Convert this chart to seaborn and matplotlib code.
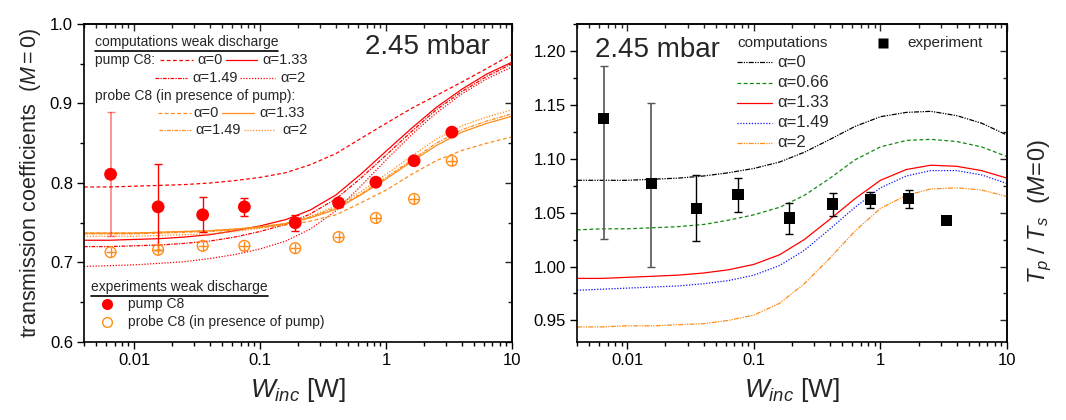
import matplotlib
matplotlib.use("Agg")
import matplotlib.pyplot as plt
import seaborn as sns
from matplotlib.ticker import MultipleLocator, NullFormatter, FuncFormatter

# incident power grid for the computed curves [W]
w_grid = [0.004, 0.0063, 0.01, 0.016, 0.025, 0.04, 0.063, 0.1, 0.16, 0.25,
          0.4, 0.63, 1.0, 1.6, 2.5, 4.0, 6.3, 10.0]

# left panel: computations weak discharge (transmission coefficients)
pump_a0 = [0.795, 0.795, 0.796, 0.797, 0.798, 0.800, 0.803, 0.807, 0.813, 0.823,
           0.837, 0.856, 0.875, 0.894, 0.910, 0.927, 0.944, 0.962]
pump_a133 = [0.728, 0.728, 0.729, 0.730, 0.732, 0.735, 0.740, 0.746, 0.754, 0.766,
             0.785, 0.811, 0.840, 0.869, 0.895, 0.918, 0.937, 0.952]
pump_a149 = [0.720, 0.720, 0.721, 0.722, 0.724, 0.727, 0.732, 0.739, 0.748, 0.761,
             0.780, 0.806, 0.835, 0.865, 0.892, 0.915, 0.934, 0.950]
pump_a2 = [0.695, 0.696, 0.697, 0.699, 0.701, 0.705, 0.710, 0.717, 0.727, 0.742,
           0.765, 0.796, 0.829, 0.861, 0.888, 0.912, 0.931, 0.946]
probe_a0 = [0.737, 0.737, 0.737, 0.738, 0.739, 0.740, 0.742, 0.744, 0.747, 0.752,
            0.760, 0.775, 0.791, 0.811, 0.828, 0.841, 0.850, 0.858]
probe_a133 = [0.737, 0.737, 0.737, 0.738, 0.739, 0.740, 0.742, 0.745, 0.749, 0.756,
              0.767, 0.785, 0.805, 0.827, 0.847, 0.864, 0.875, 0.884]
probe_a149 = [0.736, 0.736, 0.736, 0.737, 0.738, 0.739, 0.741, 0.744, 0.749, 0.757,
              0.769, 0.786, 0.807, 0.829, 0.850, 0.867, 0.878, 0.887]
probe_a2 = [0.733, 0.733, 0.733, 0.734, 0.735, 0.736, 0.739, 0.743, 0.749, 0.758,
            0.771, 0.789, 0.811, 0.834, 0.855, 0.872, 0.883, 0.892]

# right panel: computations Tp/Ts
ratio_a0 = [1.080, 1.080, 1.080, 1.081, 1.082, 1.084, 1.087, 1.091, 1.097, 1.106,
            1.118, 1.130, 1.139, 1.143, 1.144, 1.140, 1.133, 1.122]
ratio_a066 = [1.034, 1.035, 1.035, 1.036, 1.037, 1.039, 1.043, 1.048, 1.055, 1.066,
              1.082, 1.099, 1.111, 1.117, 1.118, 1.116, 1.111, 1.102]
ratio_a133 = [0.989, 0.989, 0.990, 0.991, 0.992, 0.994, 0.997, 1.002, 1.011, 1.025,
              1.044, 1.063, 1.080, 1.090, 1.094, 1.093, 1.089, 1.082]
ratio_a149 = [0.978, 0.979, 0.980, 0.981, 0.982, 0.984, 0.987, 0.992, 1.001, 1.015,
              1.035, 1.055, 1.073, 1.084, 1.089, 1.089, 1.085, 1.077]
ratio_a2 = [0.944, 0.944, 0.945, 0.945, 0.946, 0.947, 0.950, 0.955, 0.966, 0.984,
            1.008, 1.033, 1.054, 1.066, 1.072, 1.073, 1.071, 1.065]

# experiments
w_exp = [0.0065, 0.0155, 0.035, 0.075, 0.19, 0.42, 0.83, 1.67, 3.33]
pump_exp = [0.811, 0.770, 0.760, 0.770, 0.750, 0.775, 0.801, 0.828, 0.864]
pump_err = [0.078, 0.054, 0.022, 0.011, 0.010, 0.005, 0.0, 0.0, 0.0]
probe_exp = [0.713, 0.716, 0.721, 0.721, 0.718, 0.732, 0.756, 0.780, 0.828]
ratio_exp = [1.137, 1.077, 1.054, 1.067, 1.045, 1.058, 1.062, 1.063, 1.043]
ratio_err_lo = [0.111, 0.077, 0.030, 0.016, 0.015, 0.011, 0.008, 0.009, 0.0]
ratio_err_hi = [0.049, 0.075, 0.031, 0.015, 0.014, 0.010, 0.007, 0.008, 0.0]

RED = "#ff0000"
ORANGE = "#ff8c1a"
GREEN = "#108a10"
BLUE = "#1010ff"
DASH = (0, (3, 2))
DASHDOT = (0, (3, 1, 1, 1))
DOT = (0, (1, 1.3))
DASHDOTDOT = (0, (4, 1, 1, 1, 1, 1))

sns.set_theme(style="ticks")
plt.rcParams["font.family"] = ["Liberation Sans", "DejaVu Sans"]
plt.rcParams["mathtext.fontset"] = "custom"
plt.rcParams["mathtext.rm"] = "Liberation Sans"
plt.rcParams["mathtext.it"] = "Liberation Sans:italic"
plt.rcParams["mathtext.bf"] = "Liberation Sans:bold"

fig = plt.figure(figsize=(10.66, 4.2), dpi=100)
axL = fig.add_axes([84 / 1066, 78 / 420, 428 / 1066, 318 / 420])
axR = fig.add_axes([577 / 1066, 78 / 420, 430 / 1066, 318 / 420])


def curve(ax, y, color, ls):
    sns.lineplot(x=w_grid, y=y, ax=ax, color=color, linestyle=ls, lw=0.9,
                 estimator=None, sort=False)


def style_axes(ax, ymin, ymax, major, minor, fmt):
    ax.set_xscale("log")
    ax.set_xlim(0.004, 10)
    ax.set_ylim(ymin, ymax)
    ax.xaxis.set_major_formatter(FuncFormatter(lambda v, _: f"{v:g}"))
    ax.xaxis.set_minor_formatter(NullFormatter())
    ax.yaxis.set_major_locator(MultipleLocator(major))
    ax.yaxis.set_minor_locator(MultipleLocator(minor))
    ax.yaxis.set_major_formatter(FuncFormatter(lambda v, _: fmt % v))
    ax.tick_params(which="both", direction="out", top=False, right=False,
                   labelsize=12, width=1, colors="black", pad=3)
    ax.tick_params(which="major", length=5)
    ax.tick_params(which="minor", length=3)
    for s in ax.spines.values():
        s.set_linewidth(1.2)
        s.set_color("black")
    # inward ticks on top and right side
    top = ax.secondary_xaxis("top")
    top.tick_params(which="both", direction="in", labeltop=False, width=1)
    top.tick_params(which="major", length=5)
    top.tick_params(which="minor", length=3)
    top.xaxis.set_major_formatter(NullFormatter())
    top.xaxis.set_minor_formatter(NullFormatter())
    right = ax.secondary_yaxis("right")
    right.yaxis.set_major_locator(MultipleLocator(major))
    right.yaxis.set_minor_locator(MultipleLocator(minor))
    right.tick_params(which="both", direction="in", labelright=False, width=1)
    right.tick_params(which="major", length=5)
    right.tick_params(which="minor", length=3)
    ax.set_xlabel(r"$W_{inc}$ [W]", fontsize=19, labelpad=6)
    ax.grid(False)


style_axes(axL, 0.6, 1.0, 0.1, 0.05, "%.1f")
style_axes(axR, 0.93, 1.225, 0.05, 0.025, "%.2f")

# ---- left panel ----
curve(axL, pump_a0, RED, DASH)
curve(axL, pump_a133, RED, "-")
curve(axL, pump_a149, RED, DASHDOT)
curve(axL, pump_a2, RED, DOT)
curve(axL, probe_a0, ORANGE, DASH)
curve(axL, probe_a133, ORANGE, "-")
curve(axL, probe_a149, ORANGE, DASHDOT)
curve(axL, probe_a2, ORANGE, DOT)

axL.errorbar(w_exp[:1], pump_exp[:1], yerr=pump_err[:1], fmt="none",
             ecolor=RED, alpha=0.5, elinewidth=1.2, capsize=3)
axL.errorbar(w_exp[1:6], pump_exp[1:6], yerr=pump_err[1:6], fmt="none",
             ecolor=RED, elinewidth=1, capsize=3)
sns.scatterplot(x=w_exp, y=pump_exp, ax=axL, color=RED, s=85, edgecolor="none",
                zorder=5)
sns.scatterplot(x=w_exp, y=probe_exp, ax=axL, marker="o", s=60, facecolor="none",
                edgecolor=ORANGE, linewidth=1, zorder=5)
sns.scatterplot(x=w_exp, y=probe_exp, ax=axL, marker="+", s=50, color=ORANGE,
                linewidth=1, zorder=5)

axL.set_ylabel(r"transmission coefficients  $\mathit{(M=0)}$", fontsize=15.5, labelpad=5)
axL.text(0.949, 0.928, "2.45 mbar", transform=axL.transAxes, fontsize=20,
         ha="right", va="center")

T = axL.transAxes
t1 = axL.text(0.0257, 0.9434, "computations weak discharge", transform=T,
              fontsize=10, va="center")
axL.text(0.0257, 0.8868, "pump C8:", transform=T, fontsize=10, va="center")
axL.text(0.0257, 0.7736, "probe C8 (in presence of pump):", transform=T,
         fontsize=10, va="center")
keys = [
    (0.1776, 0.2547, 0.8868, RED, DASH, 0.264, "α=0"),
    (0.3318, 0.4042, 0.8868, RED, "-", 0.4159, "α=1.33"),
    (0.1659, 0.2407, 0.8302, RED, DASHDOT, 0.2523, "α=1.49"),
    (0.3645, 0.4463, 0.8302, RED, DOT, 0.458, "α=2"),
    (0.1729, 0.2500, 0.7201, ORANGE, DASH, 0.2547, "α=0"),
    (0.3224, 0.3972, 0.7201, ORANGE, "-", 0.4089, "α=1.33"),
    (0.1752, 0.2500, 0.6667, ORANGE, DASHDOT, 0.2593, "α=1.49"),
    (0.3738, 0.4463, 0.6667, ORANGE, DOT, 0.4626, "α=2"),
]
for x0, x1, yk, c, ls, xt, lab in keys:
    axL.plot([x0, x1], [yk, yk], transform=T, color=c, linestyle=ls, lw=0.9)
    axL.text(xt, yk, lab, transform=T, fontsize=10.5, va="center")

t2 = axL.text(0.0164, 0.1730, "experiments weak discharge", transform=T,
              fontsize=10, va="center")
axL.plot([0.0537], [0.1195], transform=T, marker="o", ms=8, color=RED, mec="none")
axL.text(0.1028, 0.1195, "pump C8", transform=T, fontsize=10, va="center")
axL.plot([0.0537], [0.0629], transform=T, marker="o", ms=7, mfc="none", mec=ORANGE, mew=1)
axL.text(0.1028, 0.0629, "probe C8 (in presence of pump)", transform=T,
         fontsize=10, va="center")

# ---- right panel ----
curve(axR, ratio_a0, "black", DASHDOTDOT)
curve(axR, ratio_a066, GREEN, DASH)
curve(axR, ratio_a133, RED, "-")
curve(axR, ratio_a149, BLUE, DOT)
curve(axR, ratio_a2, ORANGE, DASHDOTDOT)

axR.errorbar(w_exp[:2], ratio_exp[:2], yerr=[ratio_err_lo[:2], ratio_err_hi[:2]],
             fmt="none", ecolor="#555555", elinewidth=1.2, capsize=3)
axR.errorbar(w_exp[2:8], ratio_exp[2:8], yerr=[ratio_err_lo[2:8], ratio_err_hi[2:8]],
             fmt="none", ecolor="black", elinewidth=1, capsize=3)
sns.scatterplot(x=w_exp, y=ratio_exp, ax=axR, marker="s", color="black", s=65,
                edgecolor="none", zorder=5)

axR.set_ylabel("")
axR.text(0.0419, 0.918, "2.45 mbar", transform=axR.transAxes, fontsize=20,
         ha="left", va="center")
R = axR.transAxes
axR.text(0.3721, 0.9403, "computations", transform=R, fontsize=11, va="center")
axR.plot([0.7116], [0.9403], transform=R, marker="s", ms=7, color="black", mec="none")
axR.text(0.7674, 0.9403, "experiment", transform=R, fontsize=11, va="center")
rkeys = [
    (0.8805, "black", DASHDOTDOT, "α=0"),
    (0.8145, GREEN, DASH, "α=0.66"),
    (0.7516, RED, "-", "α=1.33"),
    (0.6887, BLUE, DOT, "α=1.49"),
    (0.6258, ORANGE, DASHDOTDOT, "α=2"),
]
for yk, c, ls, lab in rkeys:
    axR.plot([0.3721, 0.4535], [yk, yk], transform=R, color=c, linestyle=ls, lw=0.9)
    axR.text(0.4651, yk, lab, transform=R, fontsize=12, va="center")

fig.text(1040 / 1066, 0.497, r"$T_p\ /\ T_s\ \ (M\!=\!0)$", rotation=90,
         fontsize=17, ha="center", va="center")

# underline the two legend headings
fig.canvas.draw()
for t in (t1, t2):
    bb = t.get_window_extent().transformed(T.inverted())
    axL.plot([bb.x0, bb.x1], [bb.y0 - 0.005, bb.y0 - 0.005], transform=T,
             color="black", lw=1.2, clip_on=False)

fig.savefig("out.png", dpi=100)
